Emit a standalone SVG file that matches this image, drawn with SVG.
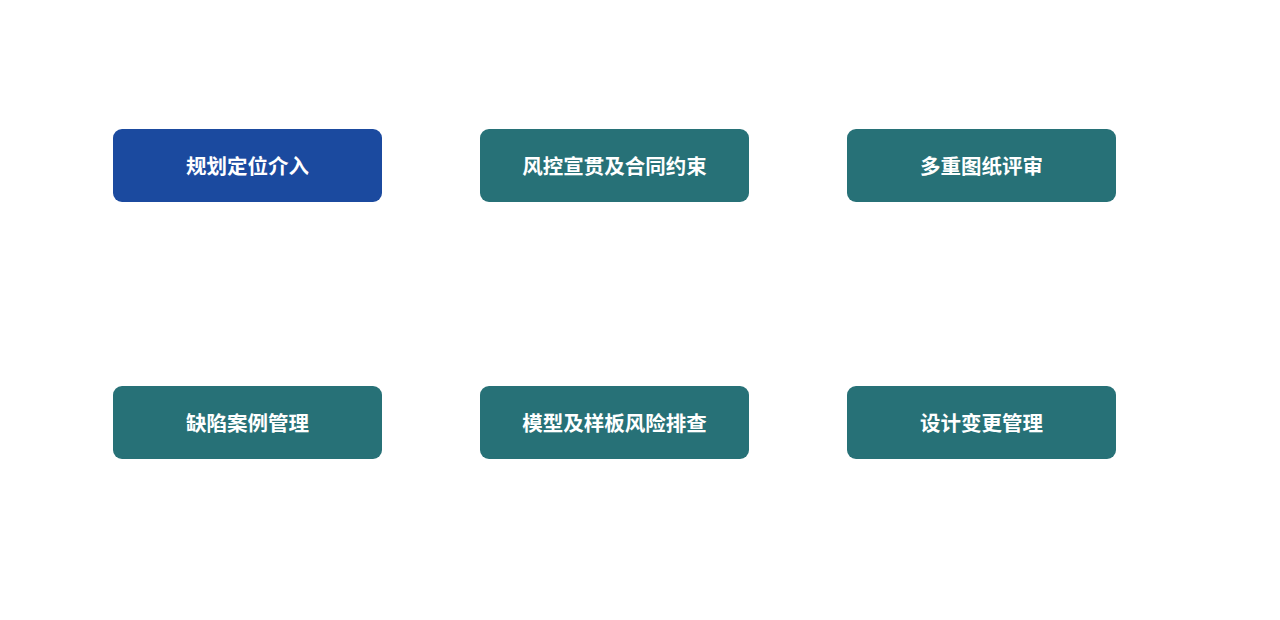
<svg xmlns="http://www.w3.org/2000/svg" width="1280" height="620" viewBox="0 0 1280 620">
<style>
.box{fill:#277177;}
.blue{fill:#1b4a9f;}
.lbl{font-family:"Noto Sans CJK SC","Noto Sans",sans-serif;font-size:20.5px;font-weight:bold;fill:#ffffff;text-anchor:middle;dominant-baseline:central;}
</style>
<rect width="1280" height="620" fill="#ffffff"/>
<g id="connectors"></g>
<g id="n1"><rect class="box blue" x="113" y="129" width="269" height="73" rx="9"/><text class="lbl" x="247.5" y="165">规划定位介入</text></g>
<g id="n2"><rect class="box" x="480" y="129" width="269" height="73" rx="9"/><text class="lbl" x="614.5" y="165">风控宣贯及合同约束</text></g>
<g id="n3"><rect class="box" x="847" y="129" width="269" height="73" rx="9"/><text class="lbl" x="981.5" y="165">多重图纸评审</text></g>
<g id="n4"><rect class="box" x="113" y="386" width="269" height="73" rx="9"/><text class="lbl" x="247.5" y="422">缺陷案例管理</text></g>
<g id="n5"><rect class="box" x="480" y="386" width="269" height="73" rx="9"/><text class="lbl" x="614.5" y="422">模型及样板风险排查</text></g>
<g id="n6"><rect class="box" x="847" y="386" width="269" height="73" rx="9"/><text class="lbl" x="981.5" y="422">设计变更管理</text></g>
</svg>
